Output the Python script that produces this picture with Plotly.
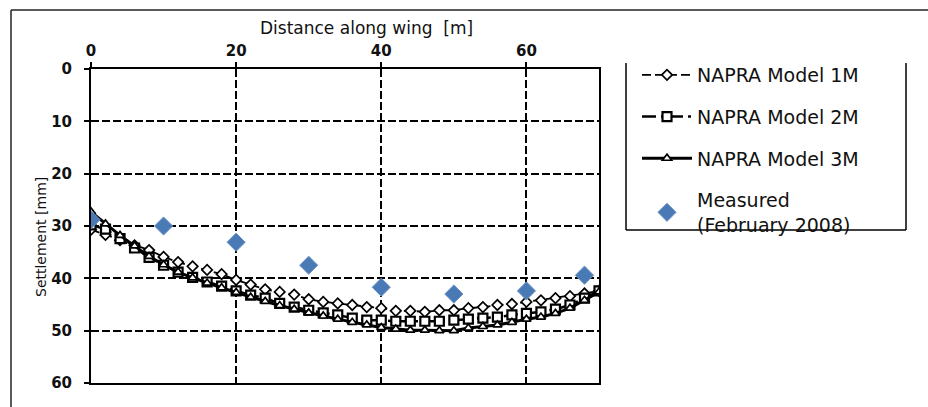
import plotly.graph_objects as go

# Distance along the wing [m] for the model output
distance = [0, 2, 4, 6, 8, 10, 12, 14, 16, 18, 20, 22, 24, 26, 28, 30, 32, 34,
            36, 38, 40, 42, 44, 46, 48, 50, 52, 54, 56, 58, 60, 62, 64, 66, 68, 70]

# Computed settlement [mm]
model_1m = [30.7, 31.7, 32.7, 33.7, 34.6, 35.9, 36.9, 37.7, 38.4, 39.2, 40.3, 41.2,
            42.1, 42.6, 43.1, 44.0, 44.5, 44.8, 45.1, 45.5, 45.7, 46.2, 46.2, 46.4,
            46.1, 46.1, 45.7, 45.5, 45.1, 44.9, 44.5, 44.2, 43.8, 43.4, 42.9, 42.4]
model_2m = [29.8, 30.6, 32.4, 34.2, 36.0, 37.5, 38.8, 39.8, 40.7, 41.5, 42.4, 43.2,
            43.8, 44.8, 45.5, 46.1, 46.6, 47.0, 47.6, 48.0, 48.0, 48.2, 48.2, 48.2,
            48.2, 48.0, 47.8, 47.6, 47.4, 47.0, 46.7, 46.4, 45.9, 45.1, 43.8, 42.4]
model_3m = [27.3, 29.6, 31.8, 33.8, 35.8, 37.4, 38.8, 39.9, 40.9, 41.8, 42.7, 43.6,
            44.4, 45.2, 45.9, 46.6, 47.2, 47.8, 48.4, 48.9, 49.4, 49.7, 49.9, 49.9,
            50.0, 50.0, 49.5, 49.2, 48.9, 48.4, 47.8, 47.4, 46.7, 45.7, 44.2, 42.6]

# Measured settlement (February 2008)
measured_x = [0, 10, 20, 30, 40, 50, 60, 68]
measured_y = [28.8, 30.0, 33.1, 37.5, 41.7, 43.0, 42.4, 39.4]

x_ticks = [0, 20, 40, 60]
y_ticks = [0, 10, 20, 30, 40, 50, 60]

FONT = "DejaVu Sans"
INK = "#111111"

fig = go.Figure()

fig.add_trace(go.Scatter(
    x=distance, y=model_1m, name="NAPRA Model 1M", mode="lines+markers",
    legendgroup="a",
    line=dict(color="black", width=1.8, dash="9px,4px"),
    marker=dict(symbol="diamond", size=8, color="white",
                line=dict(color="black", width=1.7)),
))
fig.add_trace(go.Scatter(
    x=distance, y=model_2m, name="NAPRA Model 2M", mode="lines+markers",
    legendgroup="b",
    line=dict(color="black", width=2.5, dash="14px,5px,3px,5px"),
    marker=dict(symbol="square", size=9, color="white",
                line=dict(color="black", width=2.2)),
))
fig.add_trace(go.Scatter(
    x=distance, y=model_3m, name="NAPRA Model 3M", mode="lines+markers",
    legendgroup="c",
    line=dict(color="black", width=3),
    marker=dict(symbol="triangle-up", size=8, color="white",
                line=dict(color="black", width=1.7)),
))
fig.add_trace(go.Scatter(
    x=measured_x, y=measured_y, name="Measured<br>(February 2008)", mode="markers",
    legendgroup="d",
    marker=dict(symbol="diamond", size=14, color="#4A7AB5",
                line=dict(color="#6F95C6", width=1)),
))

L, R, T, B = 91, 599, 69, 383
W, H = 928, 407
pw, ph = R - L, B - T


def px(xp):
    return (xp - L) / pw


def py(yp):
    return (B - yp) / ph


axis_common = dict(
    showline=True, linecolor="black", linewidth=2, mirror=True,
    showgrid=True, gridcolor="black", gridwidth=1.5, griddash="8px,3px",
    zeroline=False, ticks="outside", ticklen=5, tickwidth=1.5, tickcolor="black",
    tickfont=dict(family=FONT, size=15, color=INK, weight="bold"),
)

fig.update_xaxes(range=[0, 70], tickvals=x_ticks, side="top",
                 ticklabelstandoff=0, **axis_common)
fig.update_yaxes(range=[60, 0], tickvals=y_ticks,
                 ticklabelstandoff=9, **axis_common)

shapes = [
    # outer chart frame
    dict(type="line", xref="paper", yref="paper", x0=px(11), x1=px(11), y0=py(10), y1=py(H + 5),
         line=dict(color="#222222", width=1.5)),
    dict(type="line", xref="paper", yref="paper", x0=px(11), x1=px(W + 5), y0=py(10), y1=py(10),
         line=dict(color="#222222", width=1.5)),
    # legend frame
    dict(type="line", xref="paper", yref="paper", x0=px(626), x1=px(626), y0=py(63), y1=py(230),
         line=dict(color="black", width=1.5)),
    dict(type="line", xref="paper", yref="paper", x0=px(626), x1=px(906), y0=py(230), y1=py(230),
         line=dict(color="black", width=1.5)),
    dict(type="line", xref="paper", yref="paper", x0=px(906), x1=px(906), y0=py(63), y1=py(230),
         line=dict(color="black", width=1.5)),
]

annotations = [
    dict(text="Distance along wing  [m]", xref="paper", yref="paper",
         x=px(366), y=py(28), xanchor="center", yanchor="middle", showarrow=False,
         font=dict(family=FONT, size=17, color=INK)),
    dict(text="Settlement [mm]", xref="paper", yref="paper", textangle=-90,
         x=px(41), y=py(237), xanchor="center", yanchor="middle", showarrow=False,
         font=dict(family=FONT, size=14, color=INK)),
]

fig.update_layout(
    width=W, height=H,
    margin=dict(l=L, r=W - R, t=T, b=H - B, pad=0),
    paper_bgcolor="white", plot_bgcolor="white",
    showlegend=True,
    legend=dict(
        x=px(637), y=py(56), xanchor="left", yanchor="top",
        font=dict(family=FONT, size=19, color=INK),
        itemwidth=50, tracegroupgap=14, traceorder="grouped",
        bgcolor="rgba(0,0,0,0)", borderwidth=0,
    ),
    shapes=shapes,
    annotations=annotations,
)

fig.write_html("out.html")
